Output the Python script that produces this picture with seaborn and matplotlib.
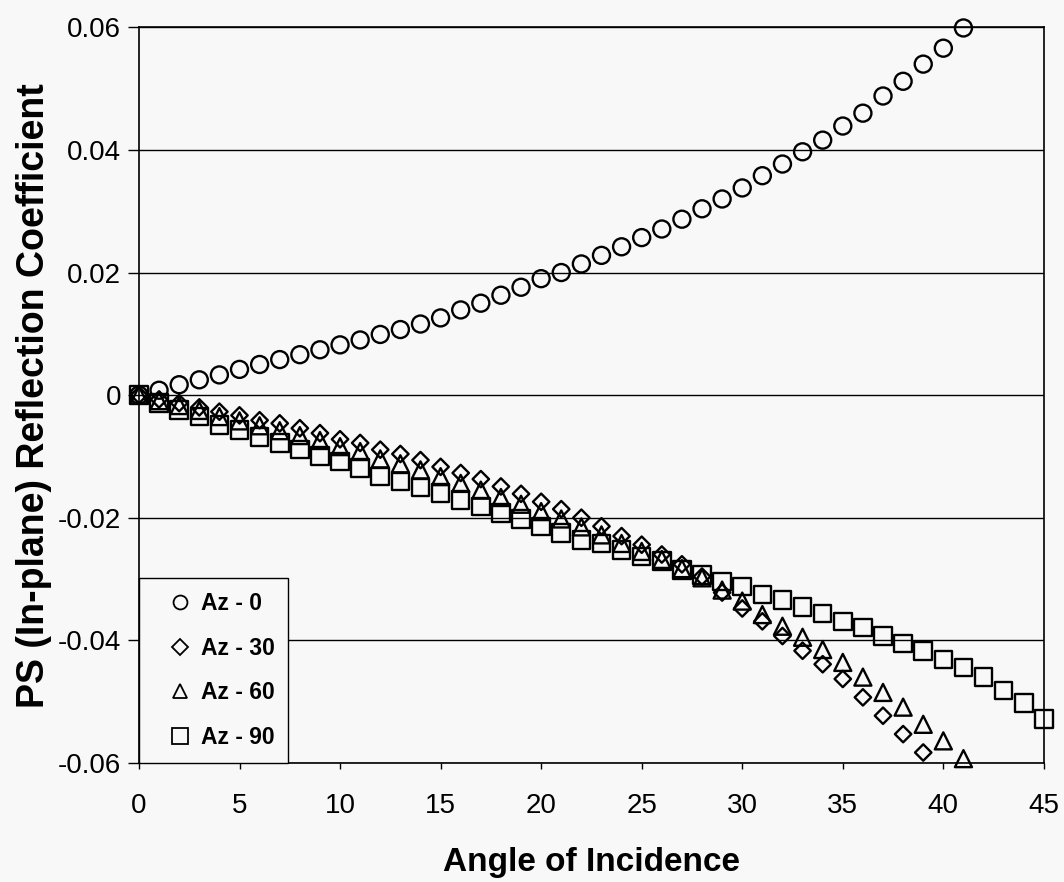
import numpy as np
import pandas as pd
import matplotlib
matplotlib.use("Agg")
import matplotlib.pyplot as plt
from matplotlib.lines import Line2D
import seaborn as sns

# PS (in-plane) reflection coefficient vs angle of incidence, four azimuths

angle_az0 = list(range(0, 42))
refl_az0 = [0.0, 0.0008, 0.0017, 0.0025, 0.0033, 0.0042, 0.0050, 0.0058, 0.0066, 0.0074,
            0.0082, 0.0090, 0.0099, 0.0107, 0.0116, 0.0126, 0.0139, 0.0150, 0.0163, 0.0176,
            0.0190, 0.0200, 0.0214, 0.0228, 0.0242, 0.0257, 0.0271, 0.0287, 0.0304, 0.0320,
            0.0338, 0.0358, 0.0377, 0.0397, 0.0416, 0.0439, 0.0460, 0.0488, 0.0512, 0.0540,
            0.0566, 0.0599]

angle_az30 = list(range(0, 40))
refl_az30 = [0.0, -0.0007, -0.0013, -0.0020, -0.0027, -0.0033, -0.0041, -0.0046, -0.0054, -0.0062,
             -0.0072, -0.0078, -0.0089, -0.0096, -0.0106, -0.0117, -0.0127, -0.0137, -0.0149, -0.0161,
             -0.0174, -0.0186, -0.0200, -0.0214, -0.0230, -0.0244, -0.0260, -0.0276, -0.0296, -0.0322,
             -0.0348, -0.0369, -0.0393, -0.0417, -0.0439, -0.0463, -0.0493, -0.0523, -0.0553, -0.0583]

angle_az60 = list(range(0, 42))
refl_az60 = [0.0, -0.0009, -0.0017, -0.0025, -0.0035, -0.0042, -0.0050, -0.0058, -0.0066, -0.0074,
             -0.0084, -0.0092, -0.0104, -0.0112, -0.0122, -0.0133, -0.0144, -0.0155, -0.0167, -0.0178,
             -0.0190, -0.0202, -0.0215, -0.0228, -0.0242, -0.0255, -0.0268, -0.0283, -0.0298, -0.0318,
             -0.0336, -0.0358, -0.0377, -0.0395, -0.0415, -0.0436, -0.0460, -0.0485, -0.0509, -0.0537,
             -0.0564, -0.0593]

angle_az90 = list(range(0, 46))
refl_az90 = [0.0, -0.0013, -0.0024, -0.0035, -0.0049, -0.0057, -0.0068, -0.0078, -0.0089, -0.0099,
             -0.0108, -0.0119, -0.0133, -0.0141, -0.0151, -0.0160, -0.0171, -0.0182, -0.0192, -0.0202,
             -0.0214, -0.0225, -0.0236, -0.0242, -0.0253, -0.0263, -0.0271, -0.0285, -0.0293, -0.0304,
             -0.0312, -0.0325, -0.0334, -0.0346, -0.0356, -0.0369, -0.0379, -0.0393, -0.0405, -0.0417,
             -0.0431, -0.0444, -0.0460, -0.0482, -0.0502, -0.0528]

series_names = ["Az - 0", "Az - 30", "Az - 60", "Az - 90"]
x_ticks = [0, 5, 10, 15, 20, 25, 30, 35, 40, 45]
y_ticks = [-0.06, -0.04, -0.02, 0, 0.02, 0.04, 0.06]
y_tick_labels = ["-0.06", "-0.04", "-0.02", "0", "0.02", "0.04", "0.06"]


def main():
    df = pd.concat([
        pd.DataFrame({"angle": angle_az0, "refl": refl_az0, "series": series_names[0]}),
        pd.DataFrame({"angle": angle_az30, "refl": refl_az30, "series": series_names[1]}),
        pd.DataFrame({"angle": angle_az60, "refl": refl_az60, "series": series_names[2]}),
        pd.DataFrame({"angle": angle_az90, "refl": refl_az90, "series": series_names[3]}),
    ], ignore_index=True)

    sns.set_style("white")
    plt.rcParams["font.family"] = ["Liberation Sans", "DejaVu Sans"]
    plt.rcParams["text.color"] = "black"
    plt.rcParams["axes.labelcolor"] = "black"
    plt.rcParams["xtick.color"] = "black"
    plt.rcParams["ytick.color"] = "black"

    fig = plt.figure(figsize=(10.64, 8.82), dpi=100, facecolor="#f8f8f8")
    ax = fig.add_axes([0.1306, 0.135, 0.8505, 0.834])
    ax.set_facecolor("#f8f8f8")

    markers = {"Az - 0": "o", "Az - 30": "D", "Az - 60": "^", "Az - 90": "s"}
    sizes = {"Az - 0": 150, "Az - 30": 70, "Az - 60": 150, "Az - 90": 160}

    # squares first so diamonds/triangles sit on top as in the original
    for name in ["Az - 90", "Az - 60", "Az - 30", "Az - 0"]:
        sub = df[df["series"] == name]
        sns.scatterplot(data=sub, x="angle", y="refl", ax=ax, marker=markers[name],
                        s=sizes[name], facecolors="none", edgecolors="black",
                        linewidths=1.7, legend=False, zorder=3, clip_on=False)

    ax.set_xlim(0, 45)
    ax.set_ylim(-0.06, 0.06)
    ax.set_xticks(x_ticks)
    ax.set_yticks(y_ticks)
    ax.set_yticklabels(y_tick_labels)
    ax.tick_params(axis="both", labelsize=20, direction="out", width=1,
                   color="black", labelcolor="black", left=True, bottom=True)
    ax.tick_params(axis="x", length=4, pad=18)
    ax.tick_params(axis="y", length=8, pad=5)
    ax.yaxis.grid(True, color="black", linewidth=1)
    ax.xaxis.grid(False)
    for sp in ax.spines.values():
        sp.set_color("black")
        sp.set_linewidth(1.2)

    ax.set_xlabel("Angle of Incidence", fontsize=24, fontweight="bold", labelpad=20, color="black")
    ax.set_ylabel("PS (In-plane) Reflection Coefficient", fontsize=27, fontweight="bold",
                  labelpad=4, color="black")

    handles = [
        Line2D([], [], linestyle="none", marker="o", markersize=10, markerfacecolor="none",
               markeredgecolor="black", markeredgewidth=1.3),
        Line2D([], [], linestyle="none", marker="D", markersize=8, markerfacecolor="none",
               markeredgecolor="black", markeredgewidth=1.3),
        Line2D([], [], linestyle="none", marker="^", markersize=10, markerfacecolor="none",
               markeredgecolor="black", markeredgewidth=1.3),
        Line2D([], [], linestyle="none", marker="s", markersize=11, markerfacecolor="none",
               markeredgecolor="black", markeredgewidth=1.3),
    ]
    leg = ax.legend(handles, series_names, loc="lower left", borderaxespad=0,
                    frameon=True, fancybox=False, handletextpad=-0.3, handlelength=2.4,
                    labelspacing=0.95, borderpad=0.6, labelcolor="black",
                    prop={"size": 16.5, "weight": "bold"})
    leg.get_frame().set_edgecolor("black")
    leg.get_frame().set_linewidth(1.0)
    leg.get_frame().set_facecolor("#f8f8f8")
    leg.get_frame().set_alpha(1)

    fig.savefig("out.png", dpi=100, facecolor=fig.get_facecolor())


if __name__ == "__main__":
    main()
